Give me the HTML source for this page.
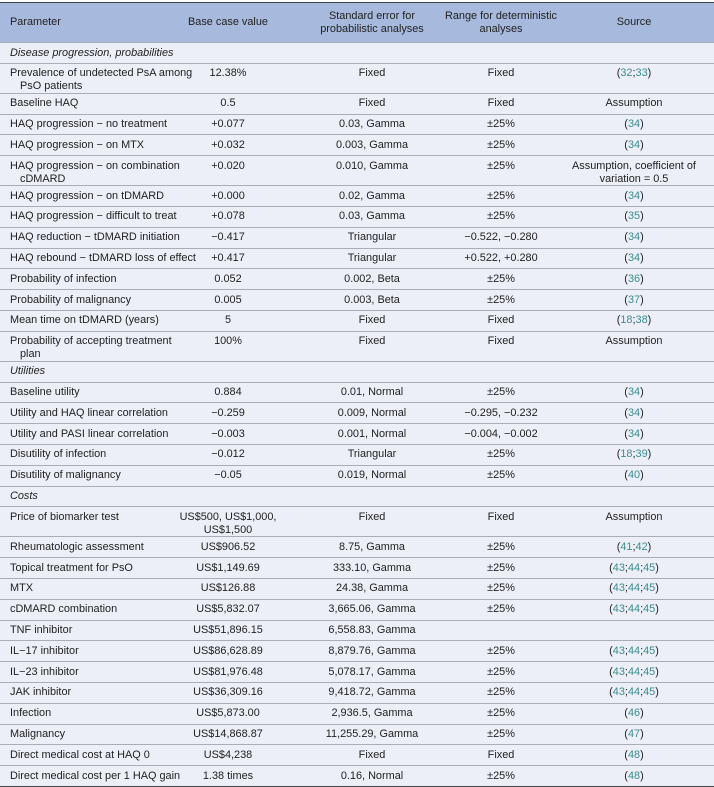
<!DOCTYPE html>
<html><head><meta charset="utf-8"><style>
body{margin:0;width:714px;height:787px;background:#fff;font-family:"Liberation Sans",sans-serif;font-size:10.9px;color:#222;overflow:hidden}
#t{position:absolute;left:0;top:2px;width:714px;border-top:1.5px solid #444;border-bottom:1.5px solid #444;background:#eceff7}
.r{position:relative;height:20.8px;border-top:1px solid #a9adb6;box-sizing:border-box}
.r:first-child{border-top:none}
.d{height:30px}
.h{height:39px;background:#a7b9dc}
.c{position:absolute;top:0;white-space:nowrap;line-height:13px;padding-top:3.5px}
.p{left:10px}
.b{left:228px;transform:translateX(-50%);text-align:center}
.s{left:372px;transform:translateX(-50%);text-align:center}
.g{left:501px;transform:translateX(-50%);text-align:center}
.o{left:634px;transform:translateX(-50%);text-align:center}
.h .c{padding-top:7px}
.h .one{padding-top:13px}
.sec{font-style:italic}
.ind{padding-left:10px}
a{color:#3a8c8c;text-decoration:none}
</style></head><body>
<div id="t">
<div class="r h"><span class="c p one">Parameter</span><span class="c b one">Base case value</span><span class="c s">Standard error for<br>probabilistic analyses</span><span class="c g">Range for deterministic<br>analyses</span><span class="c o one">Source</span></div>
<div class="r"><span class="c p sec">Disease progression, probabilities</span></div>
<div class="r d"><span class="c p">Prevalence of undetected PsA among<br><span class="ind">PsO patients</span></span><span class="c b">12.38%</span><span class="c s">Fixed</span><span class="c g">Fixed</span><span class="c o">(<a>32</a>;<a>33</a>)</span></div>
<div class="r"><span class="c p">Baseline HAQ</span><span class="c b">0.5</span><span class="c s">Fixed</span><span class="c g">Fixed</span><span class="c o">Assumption</span></div>
<div class="r"><span class="c p">HAQ progression − no treatment</span><span class="c b">+0.077</span><span class="c s">0.03, Gamma</span><span class="c g">±25%</span><span class="c o">(<a>34</a>)</span></div>
<div class="r"><span class="c p">HAQ progression − on MTX</span><span class="c b">+0.032</span><span class="c s">0.003, Gamma</span><span class="c g">±25%</span><span class="c o">(<a>34</a>)</span></div>
<div class="r d"><span class="c p">HAQ progression − on combination<br><span class="ind">cDMARD</span></span><span class="c b">+0.020</span><span class="c s">0.010, Gamma</span><span class="c g">±25%</span><span class="c o">Assumption, coefficient of<br>variation = 0.5</span></div>
<div class="r"><span class="c p">HAQ progression − on tDMARD</span><span class="c b">+0.000</span><span class="c s">0.02, Gamma</span><span class="c g">±25%</span><span class="c o">(<a>34</a>)</span></div>
<div class="r"><span class="c p">HAQ progression − difficult to treat</span><span class="c b">+0.078</span><span class="c s">0.03, Gamma</span><span class="c g">±25%</span><span class="c o">(<a>35</a>)</span></div>
<div class="r"><span class="c p">HAQ reduction − tDMARD initiation</span><span class="c b">−0.417</span><span class="c s">Triangular</span><span class="c g">−0.522, −0.280</span><span class="c o">(<a>34</a>)</span></div>
<div class="r"><span class="c p">HAQ rebound − tDMARD loss of effect</span><span class="c b">+0.417</span><span class="c s">Triangular</span><span class="c g">+0.522, +0.280</span><span class="c o">(<a>34</a>)</span></div>
<div class="r"><span class="c p">Probability of infection</span><span class="c b">0.052</span><span class="c s">0.002, Beta</span><span class="c g">±25%</span><span class="c o">(<a>36</a>)</span></div>
<div class="r"><span class="c p">Probability of malignancy</span><span class="c b">0.005</span><span class="c s">0.003, Beta</span><span class="c g">±25%</span><span class="c o">(<a>37</a>)</span></div>
<div class="r"><span class="c p">Mean time on tDMARD (years)</span><span class="c b">5</span><span class="c s">Fixed</span><span class="c g">Fixed</span><span class="c o">(<a>18</a>;<a>38</a>)</span></div>
<div class="r d"><span class="c p">Probability of accepting treatment<br><span class="ind">plan</span></span><span class="c b">100%</span><span class="c s">Fixed</span><span class="c g">Fixed</span><span class="c o">Assumption</span></div>
<div class="r"><span class="c p sec">Utilities</span></div>
<div class="r"><span class="c p">Baseline utility</span><span class="c b">0.884</span><span class="c s">0.01, Normal</span><span class="c g">±25%</span><span class="c o">(<a>34</a>)</span></div>
<div class="r"><span class="c p">Utility and HAQ linear correlation</span><span class="c b">−0.259</span><span class="c s">0.009, Normal</span><span class="c g">−0.295, −0.232</span><span class="c o">(<a>34</a>)</span></div>
<div class="r"><span class="c p">Utility and PASI linear correlation</span><span class="c b">−0.003</span><span class="c s">0.001, Normal</span><span class="c g">−0.004, −0.002</span><span class="c o">(<a>34</a>)</span></div>
<div class="r"><span class="c p">Disutility of infection</span><span class="c b">−0.012</span><span class="c s">Triangular</span><span class="c g">±25%</span><span class="c o">(<a>18</a>;<a>39</a>)</span></div>
<div class="r"><span class="c p">Disutility of malignancy</span><span class="c b">−0.05</span><span class="c s">0.019, Normal</span><span class="c g">±25%</span><span class="c o">(<a>40</a>)</span></div>
<div class="r"><span class="c p sec">Costs</span></div>
<div class="r d"><span class="c p">Price of biomarker test</span><span class="c b">US$500, US$1,000,<br>US$1,500</span><span class="c s">Fixed</span><span class="c g">Fixed</span><span class="c o">Assumption</span></div>
<div class="r"><span class="c p">Rheumatologic assessment</span><span class="c b">US$906.52</span><span class="c s">8.75, Gamma</span><span class="c g">±25%</span><span class="c o">(<a>41</a>;<a>42</a>)</span></div>
<div class="r"><span class="c p">Topical treatment for PsO</span><span class="c b">US$1,149.69</span><span class="c s">333.10, Gamma</span><span class="c g">±25%</span><span class="c o">(<a>43</a>;<a>44</a>;<a>45</a>)</span></div>
<div class="r"><span class="c p">MTX</span><span class="c b">US$126.88</span><span class="c s">24.38, Gamma</span><span class="c g">±25%</span><span class="c o">(<a>43</a>;<a>44</a>;<a>45</a>)</span></div>
<div class="r"><span class="c p">cDMARD combination</span><span class="c b">US$5,832.07</span><span class="c s">3,665.06, Gamma</span><span class="c g">±25%</span><span class="c o">(<a>43</a>;<a>44</a>;<a>45</a>)</span></div>
<div class="r"><span class="c p">TNF inhibitor</span><span class="c b">US$51,896.15</span><span class="c s">6,558.83, Gamma</span></div>
<div class="r"><span class="c p">IL−17 inhibitor</span><span class="c b">US$86,628.89</span><span class="c s">8,879.76, Gamma</span><span class="c g">±25%</span><span class="c o">(<a>43</a>;<a>44</a>;<a>45</a>)</span></div>
<div class="r"><span class="c p">IL−23 inhibitor</span><span class="c b">US$81,976.48</span><span class="c s">5,078.17, Gamma</span><span class="c g">±25%</span><span class="c o">(<a>43</a>;<a>44</a>;<a>45</a>)</span></div>
<div class="r"><span class="c p">JAK inhibitor</span><span class="c b">US$36,309.16</span><span class="c s">9,418.72, Gamma</span><span class="c g">±25%</span><span class="c o">(<a>43</a>;<a>44</a>;<a>45</a>)</span></div>
<div class="r"><span class="c p">Infection</span><span class="c b">US$5,873.00</span><span class="c s">2,936.5, Gamma</span><span class="c g">±25%</span><span class="c o">(<a>46</a>)</span></div>
<div class="r"><span class="c p">Malignancy</span><span class="c b">US$14,868.87</span><span class="c s">11,255.29, Gamma</span><span class="c g">±25%</span><span class="c o">(<a>47</a>)</span></div>
<div class="r"><span class="c p">Direct medical cost at HAQ 0</span><span class="c b">US$4,238</span><span class="c s">Fixed</span><span class="c g">Fixed</span><span class="c o">(<a>48</a>)</span></div>
<div class="r"><span class="c p">Direct medical cost per 1 HAQ gain</span><span class="c b">1.38 times</span><span class="c s">0.16, Normal</span><span class="c g">±25%</span><span class="c o">(<a>48</a>)</span></div>
</div>
</body></html>
